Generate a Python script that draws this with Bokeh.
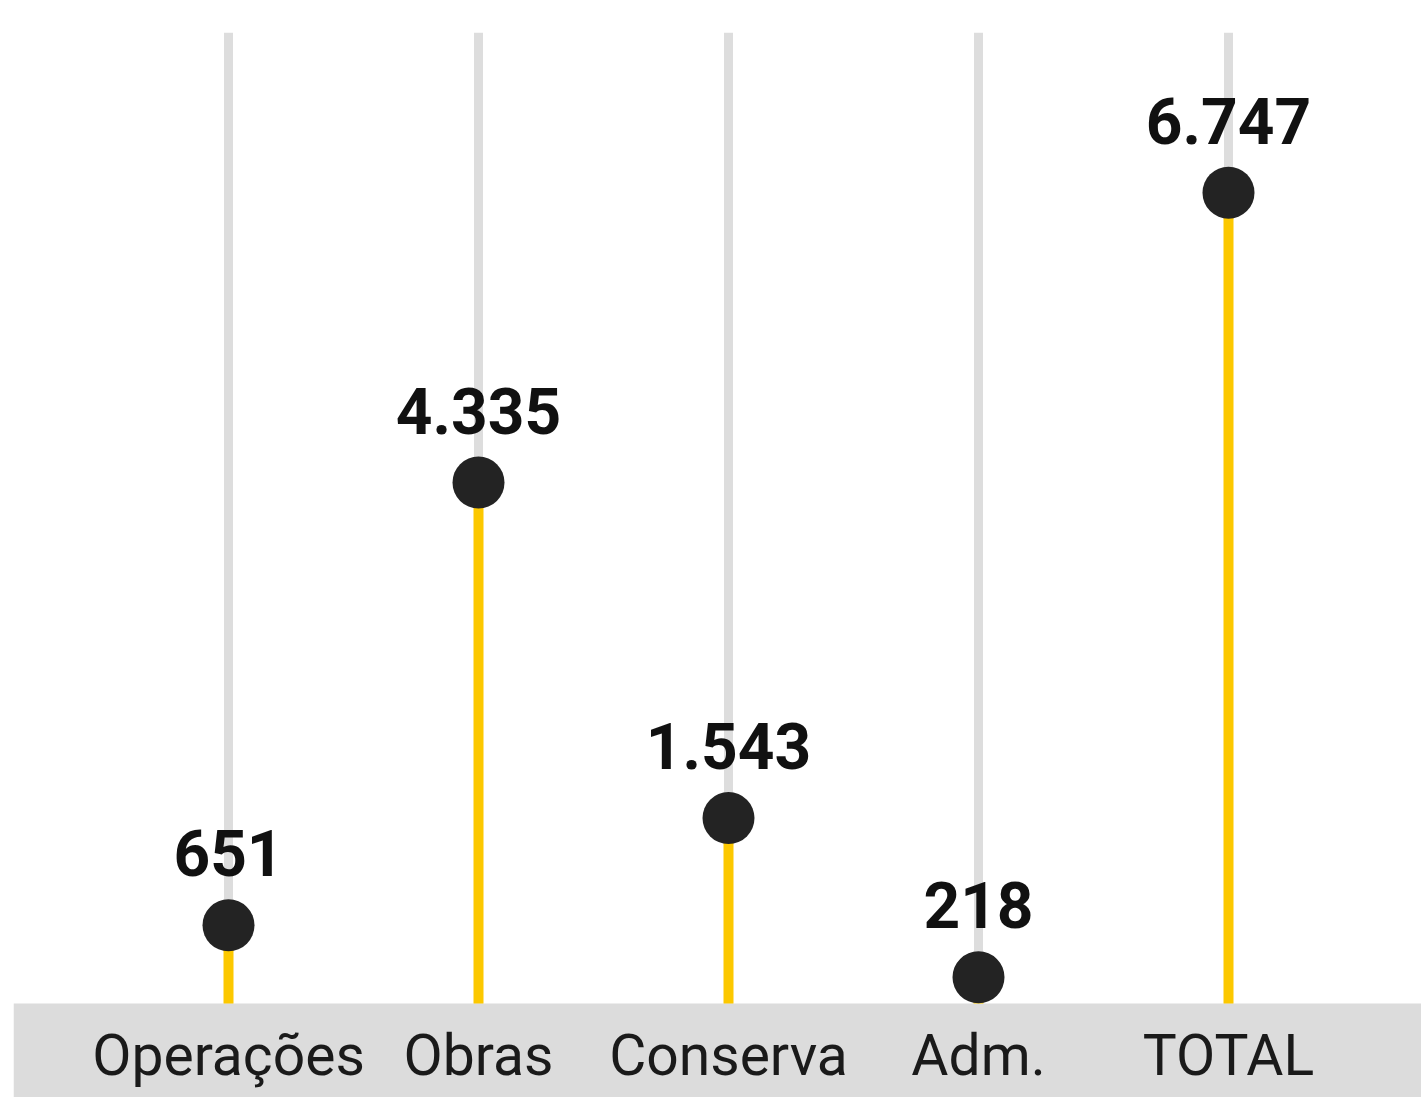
from bokeh.plotting import figure
from bokeh.models import ColumnDataSource, Range1d, BoxAnnotation
from bokeh.core.properties import value
from bokeh.embed import file_html
from bokeh.resources import INLINE

# Data
categories = ["Operações", "Obras", "Conserva", "Adm.", "TOTAL"]
values = [651, 4335, 1543, 218, 6747]
value_labels = [f"{v:,}".replace(",", ".") for v in values]

Y_TOP = 8080
Y_BOTTOM = -782

idx = list(range(len(categories)))
src = ColumnDataSource(dict(
    x=idx, y=values, zero=[0] * len(idx), top=[Y_TOP] * len(idx),
    lab=value_labels, cat=categories,
))

p = figure(width=1421, height=1097, output_backend="svg", toolbar_location=None,
           x_range=Range1d(-0.86, 4.772), y_range=Range1d(Y_BOTTOM, Y_TOP),
           min_border=0, min_border_left=13, min_border_top=32)
p.xaxis.visible = False
p.yaxis.visible = False
p.grid.visible = False
p.outline_line_color = None
p.background_fill_color = "white"
p.border_fill_color = "white"

band = BoxAnnotation(top=0, fill_color="#dcdcdc", fill_alpha=1.0, line_color=None, level="underlay")
p.add_layout(band)

# gray guide lines
p.segment(x0="x", y0="zero", x1="x", y1="top", source=src, line_color="#dddddd", line_width=9)
# yellow stems
p.segment(x0="x", y0="zero", x1="x", y1="y", source=src, line_color="#fcc800", line_width=10)
# dots
p.scatter(x="x", y="y", source=src, size=52, fill_color="#232323", line_color=None)

# value labels
p.text(x="x", y="y", text="lab", source=src, text_font=value("Roboto"), text_font_style="bold",
       text_font_size="64px", text_color="#111111", text_align="center",
       text_baseline="alphabetic", y_offset=-72)

# category labels
p.text(x="x", y="zero", text="cat", source=src, text_font=value("Roboto"),
       text_font_size="57px", text_color="#1a1a1a", text_align="center",
       text_baseline="alphabetic", y_offset=52)

open("out.html", "w").write(file_html(p, INLINE))
